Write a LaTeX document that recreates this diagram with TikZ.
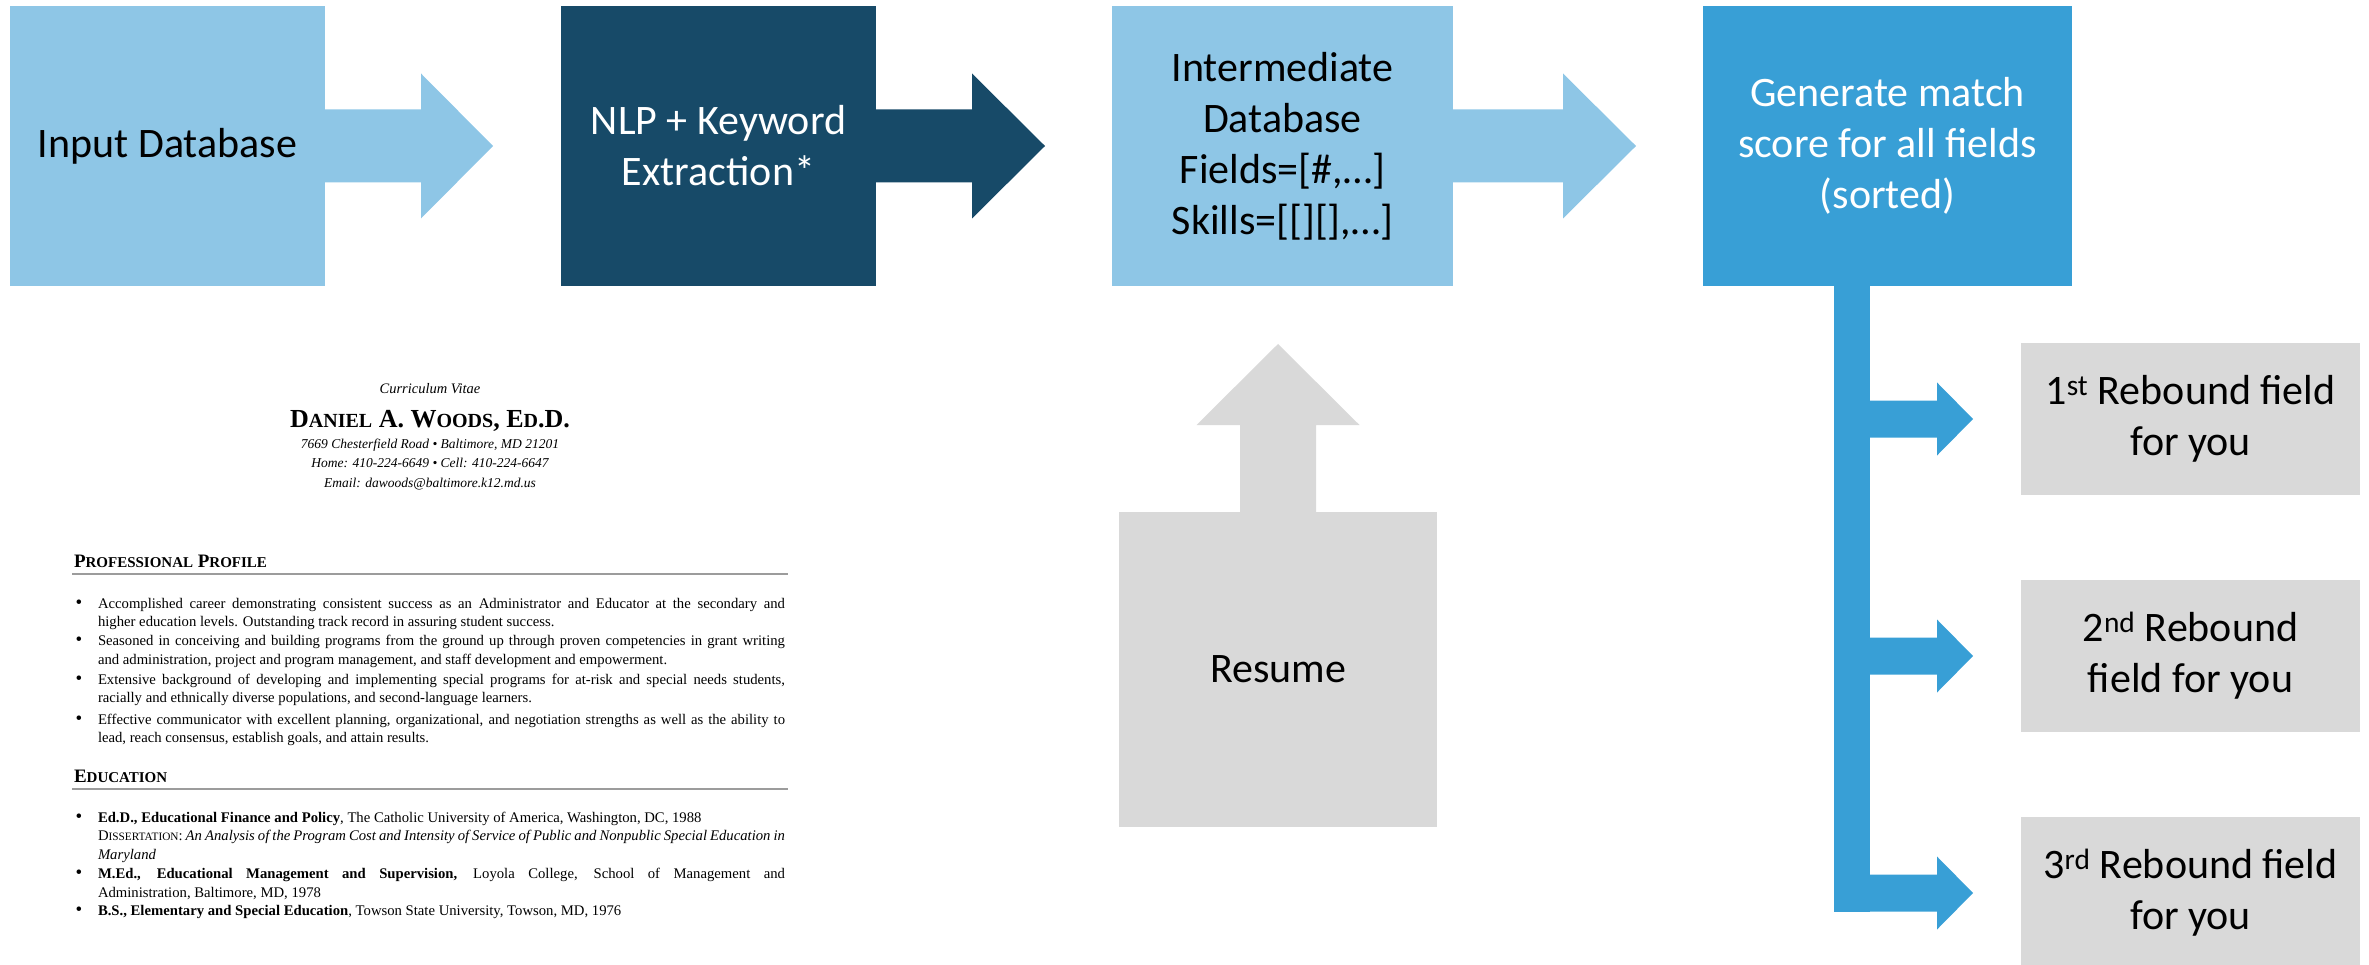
\documentclass[tikz,border=0pt]{standalone}
\usepackage{fontspec}
\setmainfont{Carlito}
\newfontfamily\cvfont{Liberation Serif}
\definecolor{lblue}{HTML}{8EC6E6}
\definecolor{dblue}{HTML}{174A68}
\definecolor{mblue}{HTML}{389FD6}
\definecolor{lgray}{HTML}{D9D9D9}
\definecolor{rulegray}{HTML}{9C9C9C}
\newcommand\cvsmall[1]{{\fontsize{15}{18}\selectfont #1}}
\newcommand\namesmall[1]{{\fontsize{20}{24}\selectfont #1}}
\newcommand\dissmall[1]{{\fontsize{11.3}{18}\selectfont #1}}
\begin{document}
\begin{tikzpicture}[x=1pt,y=-1pt,
  blk/.style={rectangle, inner sep=0pt, outer sep=0pt, align=center, font={\fontsize{42}{51}\selectfont}},
  cvl/.style={inner sep=0pt, outer sep=0pt, anchor=base west, font={\cvfont\fontsize{14.7}{18}\selectfont}},
  cvc/.style={inner sep=0pt, outer sep=0pt, anchor=base, font={\cvfont\fontsize{13.5}{18}\selectfont}},
  bul/.style={inner sep=0pt, outer sep=0pt, anchor=base, font={\cvfont\fontsize{19}{18}\selectfont}},
  head/.style={inner sep=0pt, outer sep=0pt, anchor=base west, font={\cvfont\bfseries\fontsize{19}{22}\selectfont}},
  rul/.style={rulegray, line width=2pt}
]
\useasboundingbox (0,0) rectangle (2369,965);

% ---- main process boxes
\node[blk, fill=lblue, minimum width=315pt, minimum height=280pt] (in) at (167.5,146) {Input Database};
\node[blk, fill=dblue, text=white, minimum width=315pt, minimum height=280pt] (nlp) at (718.5,146) {NLP + Keyword\\Extraction*};
\node[blk, fill=lblue, minimum width=341pt, minimum height=280pt] (mid) at (1282.5,146) {Intermediate\\Database\\Fields=[\#,…]\\Skills=[[][],…]};
\node[blk, fill=mblue, text=white, minimum width=369pt, minimum height=280pt] (gen) at (1887.5,146) {Generate match\\score for all fields\\(sorted)};

% ---- block arrows between boxes
\fill[lblue] (in.east) ++(0,-36.5) -- ++(96,0) -- ++(0,-36) -- ++(72,72.5) -- ++(-72,72.5) -- ++(0,-36) -- ++(-96,0) -- cycle;
\fill[dblue] (nlp.east) ++(0,-36.5) -- ++(96,0) -- ++(0,-36) -- ++(73,72.5) -- ++(-73,72.5) -- ++(0,-36) -- ++(-96,0) -- cycle;
\fill[lblue] (mid.east) ++(0,-36.5) -- ++(110,0) -- ++(0,-36) -- ++(73,72.5) -- ++(-73,72.5) -- ++(0,-36) -- ++(-110,0) -- cycle;

% ---- rebound boxes
\node[blk, fill=lgray, minimum width=339pt, minimum height=152pt] (r1) at (2190.5,419) {1\textsuperscript{st} Rebound field\\for you};
\node[blk, fill=lgray, minimum width=339pt, minimum height=152pt] (r2) at (2190.5,656) {2\textsuperscript{nd} Rebound\\field for you};
\node[blk, fill=lgray, minimum width=339pt, minimum height=152pt] (r3) at (2190.5,893) {3\textsuperscript{rd} Rebound field\\for you};

% ---- trunk and branch arrows
\coordinate (tl) at ([xshift=131pt]gen.south west);
\coordinate (tr) at ([xshift=167pt]gen.south west);
\fill[mblue] (tl) rectangle ++(36,625.5);
\foreach \r in {r1,r2,r3}{
  \fill[mblue] (\r.west -| tr) ++(0,-18.5) -- ++(67,0) -- ++(0,-18) -- ++(36,36.5) -- ++(-36,36.5) -- ++(0,-18) -- ++(-67,0) -- cycle;
}

% ---- resume box and up arrow
\node[blk, fill=lgray, minimum width=318pt, minimum height=315pt] (res) at (1278,669.5) {Resume};
\fill[lgray] (res.north) ++(-38,0) -- ++(0,-87) -- ++(-43.5,0) -- ++(81.5,-81) -- ++(81.5,81) -- ++(-43.5,0) -- ++(0,87) -- cycle;

% ---- CV picture
\node[cvc, font={\cvfont\itshape\fontsize{14.5}{17}\selectfont}] (cvt) at (430,393) {Curriculum Vitae};
\node[cvc, font={\cvfont\bfseries\fontsize{26}{30}\selectfont}] (cvn) at (430,427) {D\namesmall{ANIEL} A. W\namesmall{OODS}, E\namesmall{D}.D.};
\node[cvc, font={\cvfont\itshape\fontsize{13.5}{18}\selectfont}] (cva1) at (430,448) {7669 Chesterfield Road • Baltimore, MD 21201};
\node[cvc, font={\cvfont\itshape\fontsize{13.5}{18}\selectfont}] (cva2) at (430,467) {Home: 410-224-6649 • Cell: 410-224-6647};
\node[cvc, font={\cvfont\itshape\fontsize{13.5}{18}\selectfont}] (cva3) at (430,487) {Email: dawoods@baltimore.k12.md.us};

\node[head] (pph) at (74,567) {P\cvsmall{ROFESSIONAL} P\cvsmall{ROFILE}};
\draw[rul] (72,574) -- (788,574);

\node[bul] (pb1) at (79,608) {•};
\node[cvl] (p1a) at (98,608) {\makebox[687pt][s]{Accomplished career demonstrating consistent success as an Administrator and Educator at the secondary and}};
\node[cvl] (p1b) at (98,626) {higher education levels. Outstanding track record in assuring student success.};
\node[bul] (pb2) at (79,645) {•};
\node[cvl] (p2a) at (98,645) {\makebox[687pt][s]{Seasoned in conceiving and building programs from the ground up through proven competencies in grant writing}};
\node[cvl] (p2b) at (98,664) {and administration, project and program management, and staff development and empowerment.};
\node[bul] (pb3) at (79,684) {•};
\node[cvl] (p3a) at (98,684) {\makebox[687pt][s]{Extensive background of developing and implementing special programs for at-risk and special needs students,}};
\node[cvl] (p3b) at (98,702) {racially and ethnically diverse populations, and second-language learners.};
\node[bul] (pb4) at (79,724) {•};
\node[cvl] (p4a) at (98,724) {\makebox[687pt][s]{Effective communicator with excellent planning, organizational, and negotiation strengths as well as the ability to}};
\node[cvl] (p4b) at (98,742) {lead, reach consensus, establish goals, and attain results.};

\node[head] (edh) at (74,782) {E\cvsmall{DUCATION}};
\draw[rul] (72,789) -- (788,789);

\node[bul] (eb1) at (79,822) {•};
\node[cvl] (e1a) at (98,822) {\textbf{Ed.D., Educational Finance and Policy}, The Catholic University of America, Washington, DC, 1988};
\node[cvl] (e1b) at (98,840) {\makebox[687pt][s]{D\dissmall{ISSERTATION}: \itshape An Analysis of the Program Cost and Intensity of Service of Public and Nonpublic Special Education in}};
\node[cvl] (e1c) at (98,859) {\itshape Maryland};
\node[bul] (eb2) at (79,878) {•};
\node[cvl] (e2a) at (98,878) {\makebox[687pt][s]{\textbf{M.Ed., Educational Management and Supervision,} Loyola College, School of Management and}};
\node[cvl] (e2b) at (98,897) {Administration, Baltimore, MD, 1978};
\node[bul] (eb3) at (79,915) {•};
\node[cvl] (e3) at (98,915) {\textbf{B.S., Elementary and Special Education}, Towson State University, Towson, MD, 1976};
\end{tikzpicture}
\end{document}
